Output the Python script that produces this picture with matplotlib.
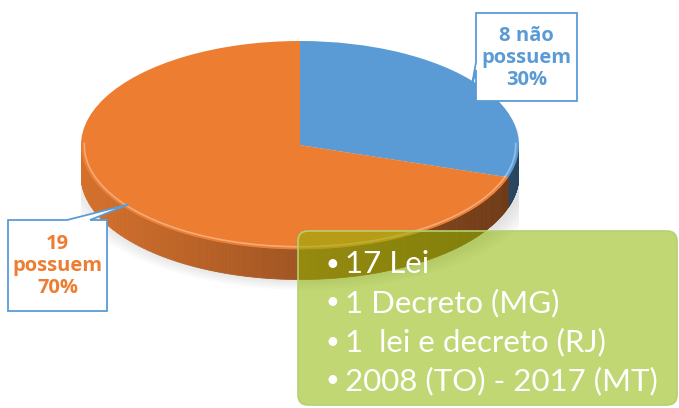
import numpy as np
import matplotlib.pyplot as plt
from matplotlib.patches import Polygon, FancyBboxPatch
from matplotlib.collections import PolyCollection
from matplotlib.colors import to_rgb

# data
labels = ["não possuem", "possuem"]
counts = [8, 19]
pcts = [30, 70]
colors = ["#5B9BD5", "#ED7D31"]
callout_text = ["8 não\npossuem\n30%", "19\npossuem\n70%"]
bullets = ["17 Lei", "1 Decreto (MG)", "1  lei e decreto (RJ)", "2008 (TO) - 2017 (MT)"]

W, H = 679, 408
fig = plt.figure(figsize=(W / 100, H / 100), dpi=100)

# pie axes: unit circle squashed into an ellipse
depth = 0.29
pax = fig.add_axes([81 / W, (H - 291) / H, 438 / W, 250 / H])
wedges, _ = pax.pie(pcts, colors=colors, startangle=90, counterclock=False,
                    radius=1, wedgeprops=dict(linewidth=0))
for w in wedges:
    w.set_zorder(3)
pax.set_xlim(-1, 1)
pax.set_ylim(-1.4, 1)
pax.set_aspect("auto")
pax.axis("off")

# side band (front half only), shaded left->right
cum = np.concatenate([[0], np.cumsum(pcts)]) / sum(pcts)
bounds = 90 - 360 * cum
polys, fcs = [], []
rim_segs = []
for i, c in enumerate(colors):
    a0, a1 = bounds[i + 1], bounds[i]
    th = np.linspace(a0, a1, 400)
    th = th[np.sin(np.radians(th)) <= 0.02]
    base = np.array(to_rgb(c))
    for t0, t1 in zip(th[:-1], th[1:]):
        r0, r1 = np.radians(t0), np.radians(t1)
        polys.append([(np.cos(r0), np.sin(r0)), (np.cos(r1), np.sin(r1)),
                      (np.cos(r1), np.sin(r1) - depth), (np.cos(r0), np.sin(r0) - depth)])
        x = np.cos(r0)
        f = 0.9 - 0.45 * (x + 1) / 2
        fcs.append(tuple(base * f))
    if len(th):
        rim_segs.append((th, c))
pax.add_collection(PolyCollection(polys, facecolors=fcs, edgecolors=fcs,
                                  linewidths=0.5, zorder=2))
# soft shadow
for k in range(6):
    s = 1.0 + 0.02 * k
    t = np.linspace(0, 2 * np.pi, 200)
    pax.fill(s * np.cos(t) + 0.02, s * 0.98 * np.sin(t) - depth - 0.02,
             color="0.5", alpha=0.04, zorder=1, lw=0)
# light rim along top front edge
for th, c in rim_segs:
    r = np.radians(th)
    lc = tuple(np.array(to_rgb(c)) * 0.4 + 0.6)
    pax.plot(0.985 * np.cos(r), 0.975 * np.sin(r), color=lc, lw=1.2, alpha=0.6, zorder=4)

# overlay axes in pixel coordinates
ax = fig.add_axes([0, 0, 1, 1])
ax.set_xlim(0, W)
ax.set_ylim(H, 0)
ax.patch.set_alpha(0)
ax.axis("off")


def to_px(x, y):
    return ax.transData.inverted().transform(pax.transData.transform((x, y)))


mids = np.radians((bounds[:-1] + bounds[1:]) / 2)
tips = [to_px(0.97 * np.cos(m), 0.97 * np.sin(m)) for m in mids]

# callout boxes
box_blue = [(476, 13), (577, 13), (577, 101), (476, 101), (476, 70), tuple(tips[0]), (476, 62)]
box_orange = [(8, 220), (67, 220), tuple(tips[1]), (90, 220), (107, 220), (107, 311), (8, 311)]
for pts, xc, yc, txt, col in [(box_blue, 526.5, 58, callout_text[0], colors[0]),
                              (box_orange, 57.5, 266, callout_text[1], colors[1])]:
    ax.add_patch(Polygon(pts, closed=True, facecolor="white", edgecolor="#5B9BD5",
                         lw=1.3, zorder=5))
    ax.text(xc, yc, txt, color=col, fontsize=14.5, fontweight="bold", family="Open Sans",
            ha="center", va="center", linespacing=1.15, zorder=6)

# green text box
ax.add_patch(FancyBboxPatch((298, 231), 379, 174, boxstyle="round,pad=0,rounding_size=10",
                            facecolor="#8DB600", alpha=0.55, edgecolor="none", zorder=7))
ax.add_patch(FancyBboxPatch((298, 231), 379, 174, boxstyle="round,pad=0,rounding_size=10",
                            facecolor="none", edgecolor="#B5D070", lw=1.2, zorder=7))
for i, b in enumerate(bullets):
    y = 264 + 39 * i
    ax.text(326, y, "•", color="white", fontsize=17, family="Lato", ha="left", va="center", zorder=8)
    ax.text(345, y, b, color="white", fontsize=22.5, family="Lato", ha="left", va="center", zorder=8)

fig.savefig("out.png", dpi=100)
